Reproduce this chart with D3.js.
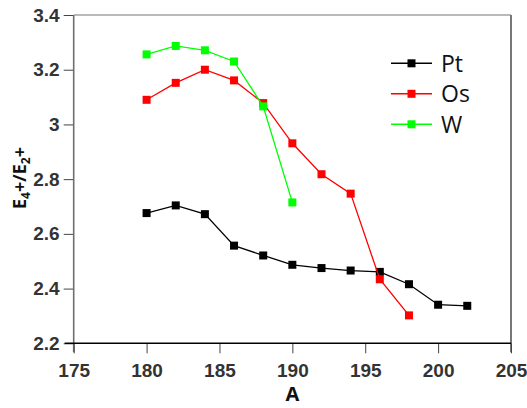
<!DOCTYPE html>
<html>
<head>
<meta charset="utf-8">
<script src="https://cdn.jsdelivr.net/npm/d3@7"></script>
<style>
  html, body { margin: 0; padding: 0; background: #fff; }
  svg { display: block; font-family: "Open Sans", "Noto Sans", sans-serif; }
</style>
</head>
<body>
<svg id="chart" width="527" height="408"></svg>
<script>
// Mass number A and the E(4+)/E(2+) energy ratio for each isotope chain
const massPt = [180, 182, 184, 186, 188, 190, 192, 194, 196, 198, 200, 202];
const ratioPt = [2.676, 2.704, 2.672, 2.557, 2.521, 2.487, 2.475, 2.466, 2.461, 2.416, 2.341, 2.337];

const massOs = [180, 182, 184, 186, 188, 190, 192, 194, 196, 198];
const ratioOs = [3.090, 3.152, 3.200, 3.161, 3.078, 2.931, 2.818, 2.747, 2.434, 2.302];

const massW = [180, 182, 184, 186, 188, 190];
const ratioW = [3.256, 3.287, 3.271, 3.230, 3.066, 2.715];

const seriesNames = ["Pt", "Os", "W"];
const seriesColors = ["#000000", "#ff0000", "#00ff00"];

const xTicks = [175, 180, 185, 190, 195, 200, 205];
const yTicks = [2.2, 2.4, 2.6, 2.8, 3.0, 3.2, 3.4];

const series = [
  { name: seriesNames[0], color: seriesColors[0], xs: massPt, ys: ratioPt },
  { name: seriesNames[1], color: seriesColors[1], xs: massOs, ys: ratioOs },
  { name: seriesNames[2], color: seriesColors[2], xs: massW, ys: ratioW }
];

const svg = d3.select("#chart");
const plot = { left: 73.7, right: 511, top: 15, bottom: 343.3 };

const x = d3.scaleLinear().domain([175, 205]).range([plot.left, plot.right]);
const y = d3.scaleLinear().domain([2.2, 3.4]).range([plot.bottom, plot.top]);

// frame: top and right edges
svg.append("line")
  .attr("x1", plot.left).attr("x2", plot.right).attr("y1", plot.top).attr("y2", plot.top)
  .attr("stroke", "#777").attr("stroke-width", 1.2);
svg.append("line")
  .attr("x1", plot.right).attr("x2", plot.right).attr("y1", plot.top).attr("y2", plot.bottom + 9)
  .attr("stroke", "#777").attr("stroke-width", 2);

// y axis
const yAxis = svg.append("g")
  .attr("transform", `translate(${plot.left},0)`)
  .call(d3.axisLeft(y).tickValues(yTicks).tickSize(10).tickPadding(4)
    .tickFormat(d => d3.format("~g")(d)));
yAxis.select(".domain").remove();
yAxis.append("line")
  .attr("x1", 0).attr("x2", 0).attr("y1", plot.top).attr("y2", plot.bottom + 9)
  .attr("stroke", "#6f6f6f").attr("stroke-width", 1.6);
yAxis.selectAll(".tick line").attr("stroke", "#444").attr("stroke-width", 1);
yAxis.selectAll(".tick text")
  .attr("fill", "#333").attr("font-size", 19).attr("font-weight", "bold");

// x axis
const xAxis = svg.append("g")
  .attr("transform", `translate(0,${plot.bottom})`)
  .call(d3.axisBottom(x).tickValues(xTicks).tickSize(10).tickPadding(10));
xAxis.select(".domain").remove();
xAxis.append("line")
  .attr("x1", plot.left - 9).attr("x2", plot.right).attr("y1", 0).attr("y2", 0)
  .attr("stroke", "#000").attr("stroke-width", 1.4);
xAxis.selectAll(".tick line").attr("stroke", "#444").attr("stroke-width", 1);
xAxis.selectAll(".tick text")
  .attr("fill", "#333").attr("font-size", 19).attr("font-weight", "bold");

// axis titles
svg.append("text")
  .attr("x", (plot.left + plot.right) / 2).attr("y", 401)
  .attr("text-anchor", "middle")
  .attr("font-size", 20).attr("font-weight", "bold").attr("fill", "#111")
  .text("A");

const yTitle = svg.append("text")
  .attr("transform", "translate(26,178) rotate(-90)")
  .attr("text-anchor", "middle")
  .attr("font-size", 18).attr("font-weight", "bold").attr("fill", "#111");
yTitle.append("tspan").text("E");
yTitle.append("tspan").attr("font-size", 12).attr("dy", 4).text("4");
yTitle.append("tspan").attr("dy", -4).text("+/E");
yTitle.append("tspan").attr("font-size", 12).attr("dy", 4).text("2");
yTitle.append("tspan").attr("dy", -4).text("+");

// series lines and square markers
const line = d3.line().x(d => x(d[0])).y(d => y(d[1]));
const markerSize = 8;

series.forEach(s => {
  const pts = s.xs.map((v, i) => [v, s.ys[i]]);
  svg.append("path")
    .datum(pts)
    .attr("d", line)
    .attr("fill", "none")
    .attr("stroke", s.color)
    .attr("stroke-width", 1.3);
  svg.append("g").selectAll("rect")
    .data(pts)
    .join("rect")
    .attr("x", d => x(d[0]) - markerSize / 2)
    .attr("y", d => y(d[1]) - markerSize / 2)
    .attr("width", markerSize).attr("height", markerSize)
    .attr("fill", s.color);
});

// legend
const legend = svg.append("g");
series.forEach((s, i) => {
  const ly = 63.3 + i * 30.5;
  legend.append("line")
    .attr("x1", 391).attr("x2", 432).attr("y1", ly).attr("y2", ly)
    .attr("stroke", s.color).attr("stroke-width", 1.5);
  legend.append("rect")
    .attr("x", 411.5 - markerSize / 2).attr("y", ly - markerSize / 2)
    .attr("width", markerSize).attr("height", markerSize)
    .attr("fill", s.color);
  legend.append("text")
    .attr("x", 441).attr("y", ly + 8.5)
    .attr("font-size", 23).attr("fill", "#111")
    .text(s.name);
});
</script>
</body>
</html>
